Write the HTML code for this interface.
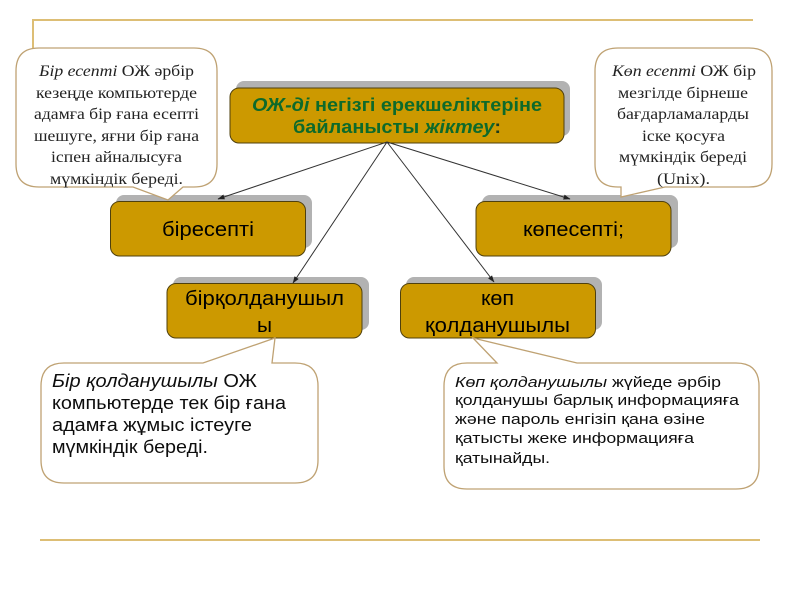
<!DOCTYPE html>
<html>
<head>
<meta charset="utf-8">
<style>
html,body{margin:0;padding:0;background:#fff;width:800px;height:600px;overflow:hidden}
svg{display:block}
.se{font-family:"Liberation Serif",serif;font-size:16px;fill:#222;text-anchor:start}
.sa{font-family:"Liberation Sans",sans-serif;fill:#000}
</style>
</head>
<body>
<svg width="800" height="600" viewBox="0 0 800 600" xmlns="http://www.w3.org/2000/svg">
<defs>
<marker id="a" markerWidth="7" markerHeight="5" refX="6.500" refY="2.500" orient="auto" markerUnits="userSpaceOnUse"><path d="M0 0L7 2.500L0 5Z" fill="#222"/></marker>
<filter id="b" x="-5%" y="-5%" width="110%" height="110%"><feGaussianBlur stdDeviation="0.3"/></filter>
</defs>
<g filter="url(#b)">
<path d="M33 48V20H753" fill="none" stroke="#DDBE74" stroke-width="2"/>
<path d="M40 540H760" fill="none" stroke="#DDBE74" stroke-width="2"/>

<g fill="#B2B2B2">
<rect x="236" y="81" width="334" height="55" rx="8"/>
<rect x="116" y="195" width="196" height="53" rx="8"/>
<rect x="482" y="195" width="196" height="53" rx="8"/>
<rect x="173" y="277" width="196" height="53" rx="8"/>
<rect x="406" y="277" width="196" height="53" rx="8"/>
</g>
<g fill="#CC9900" stroke="#4F4010" stroke-width="1">
<rect x="230" y="88" width="334" height="55" rx="9"/>
<rect x="110.500" y="201.500" width="195" height="54.500" rx="9"/>
<rect x="476" y="201.500" width="195" height="54.500" rx="9"/>
<rect x="167" y="283.500" width="195" height="54.500" rx="9"/>
<rect x="400.500" y="283.500" width="195" height="54.500" rx="9"/>
</g>

<g stroke="#333" stroke-width="1" fill="none" marker-end="url(#a)">
<line x1="387" y1="142" x2="218" y2="199"/>
<line x1="387" y1="142" x2="293" y2="283"/>
<line x1="387" y1="142" x2="570" y2="199"/>
<line x1="387" y1="142" x2="494" y2="282"/>
</g>

<g fill="#fff" stroke="#BFA273" stroke-width="1.300">
<path d="M39 48H194Q217 48 217 71V164Q217 187 194 187H183L168 200L133 187H39Q16 187 16 164V71Q16 48 39 48Z"/>
<path d="M618 48H749Q772 48 772 71V164Q772 187 749 187H665L621 197V187H618Q595 187 595 164V71Q595 48 618 48Z"/>
<path d="M64 363H203L275 338L272 363H295Q318 363 318 386V460Q318 483 295 483H64Q41 483 41 460V386Q41 363 64 363Z"/>
<path d="M467 363H497L473 338L577 363H736Q759 363 759 386V466Q759 489 736 489H467Q444 489 444 466V386Q444 363 467 363Z"/>
</g>

<g class="se">
<text x="39" y="76" textLength="155" lengthAdjust="spacingAndGlyphs"><tspan font-style="italic">Бір есепті</tspan> ОЖ әрбір</text>
<text x="36" y="98" textLength="161" lengthAdjust="spacingAndGlyphs">кезеңде компьютерде</text>
<text x="34" y="119" textLength="165" lengthAdjust="spacingAndGlyphs">адамға бір ғана есепті</text>
<text x="34" y="141" textLength="165" lengthAdjust="spacingAndGlyphs">шешуге, яғни бір ғана</text>
<text x="51" y="162" textLength="131" lengthAdjust="spacingAndGlyphs">іспен айналысуға</text>
<text x="50" y="184" textLength="133" lengthAdjust="spacingAndGlyphs">мүмкіндік береді.</text>

<text x="612" y="76" textLength="144" lengthAdjust="spacingAndGlyphs"><tspan font-style="italic">Көп есепті</tspan> ОЖ бір</text>
<text x="618" y="98" textLength="130" lengthAdjust="spacingAndGlyphs">мезгілде бірнеше</text>
<text x="617" y="119" textLength="132" lengthAdjust="spacingAndGlyphs">бағдарламаларды</text>
<text x="642" y="141" textLength="83" lengthAdjust="spacingAndGlyphs">іске қосуға</text>
<text x="619" y="162" textLength="128" lengthAdjust="spacingAndGlyphs">мүмкіндік береді</text>
<text x="657" y="184" textLength="53" lengthAdjust="spacingAndGlyphs">(Unix).</text>
</g>

<g class="sa" font-size="18" font-weight="bold">
<text x="252" y="111" textLength="290" lengthAdjust="spacingAndGlyphs" style="fill:#116A2B"><tspan font-style="italic">ОЖ-ді</tspan> негізгі ерекшеліктеріне</text>
<text x="293" y="133" textLength="208" lengthAdjust="spacingAndGlyphs" style="fill:#116A2B">байланысты <tspan font-style="italic">жіктеу</tspan><tspan style="fill:#1c3a1c">:</tspan></text>
</g>

<g class="sa" font-size="20">
<text x="162" y="236" textLength="92" lengthAdjust="spacingAndGlyphs">біресепті</text>
<text x="523" y="236" textLength="101" lengthAdjust="spacingAndGlyphs">көпесепті;</text>
<text x="185" y="305" textLength="159" lengthAdjust="spacingAndGlyphs">бірқолданушыл</text>
<text x="257" y="332" textLength="15" lengthAdjust="spacingAndGlyphs">ы</text>
<text x="481" y="305" textLength="33" lengthAdjust="spacingAndGlyphs">көп</text>
<text x="425" y="332" textLength="145" lengthAdjust="spacingAndGlyphs">қолданушылы</text>
</g>

<g class="sa" font-size="18" style="fill:#111">
<text x="52" y="387" textLength="205" lengthAdjust="spacingAndGlyphs"><tspan font-style="italic">Бір қолданушылы</tspan> ОЖ</text>
<text x="52" y="409" textLength="234" lengthAdjust="spacingAndGlyphs">компьютерде тек бір ғана</text>
<text x="52" y="431" textLength="200" lengthAdjust="spacingAndGlyphs">адамға жұмыс істеуге</text>
<text x="52" y="453" textLength="156" lengthAdjust="spacingAndGlyphs">мүмкіндік береді.</text>
</g>

<g class="sa" font-size="14.500" style="fill:#111">
<text x="455" y="387" textLength="266" lengthAdjust="spacingAndGlyphs"><tspan font-style="italic">Көп қолданушылы</tspan> жүйеде әрбір</text>
<text x="455" y="405" textLength="284" lengthAdjust="spacingAndGlyphs">қолданушы барлық информацияға</text>
<text x="455" y="424" textLength="250" lengthAdjust="spacingAndGlyphs">және пароль енгізіп қана өзіне</text>
<text x="455" y="443" textLength="239" lengthAdjust="spacingAndGlyphs">қатысты жеке информацияға</text>
<text x="455" y="463" textLength="95" lengthAdjust="spacingAndGlyphs">қатынайды.</text>
</g>
</g>
</svg>
</body>
</html>
